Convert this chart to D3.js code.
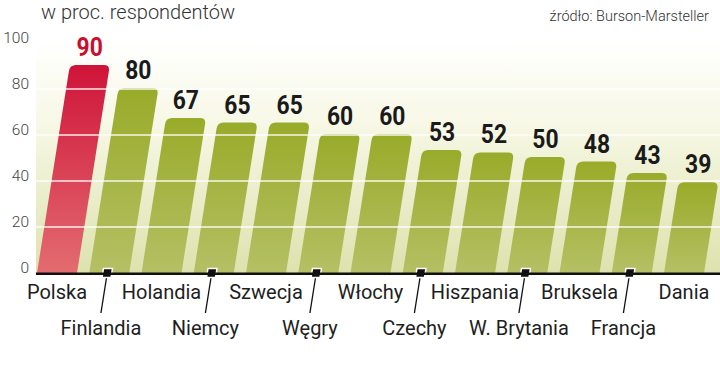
<!DOCTYPE html>
<html><head><meta charset="utf-8">
<script src="https://cdn.jsdelivr.net/npm/d3@7"></script>
<style>html,body{margin:0;padding:0;background:#fff;}svg{display:block;}</style>
</head><body><svg id="c" width="720" height="369"></svg>
<script>
const categories = ["Polska","Finlandia","Holandia","Niemcy","Szwecja","Węgry","Włochy","Czechy","Hiszpania","W. Brytania","Bruksela","Francja","Dania"];
const values = [90,80,67,65,65,60,60,53,52,50,48,43,39];
const yTicks = [0,20,40,60,80,100];
const gridTicks = [20,40,60,80];
const highlight = "Polska";
const title = "w proc. respondentów";
const source = "źródło: Burson-Marsteller";

const svg = d3.select("#c");
const W = 720;
const y0 = 273;
const y = d3.scaleLinear().domain([0,100]).range([y0,43]);
const x = d3.scalePoint().domain(categories).range([57,684]);
const bw = 40, k = 0.158, r = 6;
const plotLeft = 36;

const defs = svg.append("defs");
const bg = defs.append("linearGradient").attr("id","bg").attr("x1",0).attr("x2",0).attr("y1",0).attr("y2",1);
bg.append("stop").attr("offset","0%").attr("stop-color","#ffffff");
bg.append("stop").attr("offset","35%").attr("stop-color","#f7f8e6");
bg.append("stop").attr("offset","100%").attr("stop-color","#dde2ae");
const gg = defs.append("linearGradient").attr("id","gGreen").attr("x1",0).attr("x2",0).attr("y1",0).attr("y2",1);
gg.append("stop").attr("offset","0%").attr("stop-color","#99ab2a");
gg.append("stop").attr("offset","100%").attr("stop-color","#b4c064");
const gr = defs.append("linearGradient").attr("id","gRed").attr("x1",0).attr("x2",0).attr("y1",0).attr("y2",1);
gr.append("stop").attr("offset","0%").attr("stop-color","#cf1439");
gr.append("stop").attr("offset","100%").attr("stop-color","#e36c70");

// background
svg.append("rect").attr("x",plotLeft).attr("y",40).attr("width",W-plotLeft).attr("height",y0-40).attr("fill","url(#bg)");

// sheared group
const ang = Math.atan(k)*180/Math.PI;
const sh = svg.append("g").attr("transform",`translate(${k*y0},0) skewX(${-ang})`);

const data = categories.map((c,i)=>({c, v: values[i]}));
function barPath(d){
  const xl = x(d.c)-bw/2, xr = x(d.c)+bw/2, yt = y(d.v)-1;
  return `M${xl},${y0}L${xl},${yt+r}Q${xl},${yt} ${xl+r},${yt}L${xr-r},${yt}Q${xr},${yt} ${xr},${yt+r}L${xr},${y0}Z`;
}
sh.selectAll("path.bar").data(data).join("path").attr("class","bar")
  .attr("d",barPath)
  .attr("fill",d=>d.c===highlight?"url(#gRed)":"url(#gGreen)");

// gridlines
svg.selectAll("line.grid").data(gridTicks).join("line").attr("class","grid")
  .attr("x1",plotLeft).attr("x2",W).attr("y1",d=>y(d)).attr("y2",d=>y(d))
  .attr("stroke","#ffffff").attr("stroke-width",1.6).attr("opacity",0.9);

// baseline
svg.append("line").attr("x1",plotLeft).attr("x2",W).attr("y1",y0+0.8).attr("y2",y0+0.8)
  .attr("stroke","#111").attr("stroke-width",2.4);

// y labels
svg.selectAll("text.yt").data(yTicks).join("text").attr("class","yt")
  .attr("x",29).attr("y",d=>y(d)).attr("text-anchor","end")
  .attr("font-family","Roboto, sans-serif").attr("font-weight",300).attr("font-size",15.5)
  .attr("fill","#444").text(d=>d);

// value labels (condensed look via horizontal scale)
svg.selectAll("text.val").data(data).join("text").attr("class","val")
  .attr("transform",d=>`translate(${x(d.c)+k*(y0-y(d.v))},${y(d.v)-10}) scale(0.88,1)`)
  .attr("text-anchor","middle")
  .attr("font-family","Roboto, sans-serif").attr("font-weight",700).attr("font-size",26)
  .attr("fill",d=>d.c===highlight?"#c8102e":"#1a1a1a").text(d=>d.v);

// markers + leader lines for second row
const row2 = data.filter((d,i)=>i%2===1);
sh.selectAll("line.lead").data(row2).join("line").attr("class","lead")
  .attr("x1",d=>x(d.c)-2).attr("x2",d=>x(d.c)-2).attr("y1",y0).attr("y2",y0+40)
  .attr("stroke","#111").attr("stroke-width",1.3);
sh.selectAll("rect.mk").data(row2).join("rect").attr("class","mk")
  .attr("x",d=>x(d.c)-6.5).attr("y",y0-4.5).attr("width",9).attr("height",9)
  .attr("fill","#111").attr("stroke","#fff").attr("stroke-width",1.5);

// category labels
svg.selectAll("text.cat").data(data).join("text").attr("class","cat")
  .attr("x",(d,i)=>i%2===0 ? x(d.c) : x(d.c)-2-k*40)
  .attr("y",(d,i)=>i%2===0 ? 299 : 335)
  .attr("text-anchor","middle")
  .attr("font-family","Roboto, sans-serif").attr("font-weight",400).attr("font-size",20)
  .attr("fill","#1e1e1e").text(d=>d.c);

// title & source
svg.append("text").attr("x",41).attr("y",19).attr("font-family","Roboto, sans-serif")
  .attr("font-weight",300).attr("font-size",20).attr("fill","#333").text(title);
svg.append("text").attr("x",709).attr("y",21).attr("text-anchor","end").attr("font-family","Roboto, sans-serif")
  .attr("font-weight",300).attr("font-size",14.5).attr("fill","#333").text(source);
</script></body></html>
